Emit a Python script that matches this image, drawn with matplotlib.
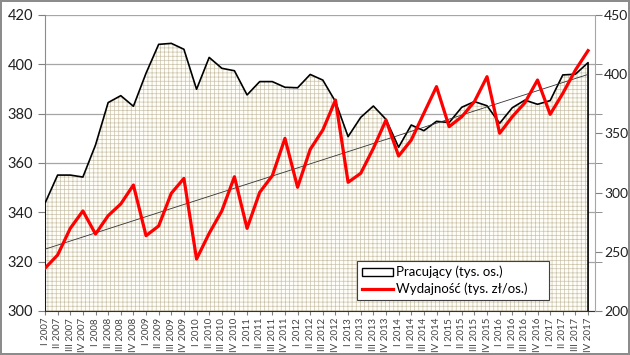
import numpy as np
import matplotlib
matplotlib.use("Agg")
import matplotlib.pyplot as plt
from matplotlib.patches import Patch
from matplotlib.lines import Line2D

plt.rcParams['font.family'] = ['Lato', 'DejaVu Sans']
plt.rcParams['hatch.linewidth'] = 0.5

quarters = [f"{q} {y}" for y in range(2007, 2018) for q in ["I", "II", "III", "IV"]]

pracujacy = [343.7, 355.1, 355.1, 354.3, 367.3, 384.5, 387.3, 383.0, 396.4, 408.1,
             408.5, 406.1, 389.9, 402.8, 398.4, 397.4, 387.6, 393.0, 393.0, 390.7,
             390.5, 395.9, 393.6, 384.9, 370.7, 378.5, 383.1, 377.7, 366.4, 375.4,
             373.1, 376.9, 376.4, 382.6, 384.9, 383.2, 376.1, 382.4, 385.5, 383.8,
             385.3, 395.7, 396.0, 400.7]

wydajnosc = [236.1, 247.3, 269.8, 284.5, 265.0, 280.5, 290.4, 306.4, 263.6, 271.8,
             299.4, 312.0, 243.9, 265.6, 284.5, 313.4, 269.8, 300.2, 314.3, 345.8,
             304.5, 336.5, 352.9, 378.2, 308.7, 316.3, 337.4, 361.3, 330.9, 344.4,
             367.0, 389.5, 355.7, 364.1, 376.8, 397.9, 350.1, 364.1, 375.9, 395.1,
             366.1, 383.8, 403.5, 419.9]

x = np.arange(len(quarters))

fig = plt.figure(figsize=(6.3, 3.55), dpi=100)
fig.patch.set_edgecolor('#8c8c8c')
fig.patch.set_linewidth(1.5)
ax = fig.add_axes([45/630, 1 - 311/355, 550/630, 296/355])
ax2 = ax.twinx()

# employment area with grid hatch
ax.fill_between(x, 300, pracujacy, facecolor='#fefdf8', edgecolor='#cbc3ab',
                hatch='++++', linewidth=0, zorder=2)
ax.plot(np.r_[x[0], x, x[-1]], np.r_[300, pracujacy, 300], color='black', lw=1.2,
        zorder=3)

ax.set_xlim(0, 43.55)
ax.set_ylim(300, 420)
ax.set_yticks(range(300, 421, 20))
ax.grid(axis='y', color='#a6a6a6', lw=0.9, zorder=1)
ax.set_axisbelow(True)
ax.set_xticks(x)
ax.set_xticklabels(quarters, rotation=90, fontsize=7, color='#404040')
ax.tick_params(axis='x', length=3, color='#808080', pad=2)
ax.tick_params(axis='y', length=5, color='#808080', labelsize=10.5, colors='#202020')

ax.spines['top'].set_visible(False)
ax2.spines['top'].set_visible(False)
ax.spines['left'].set_color('#8c8c8c')
ax2.spines['left'].set_visible(False)
ax.spines['right'].set_visible(False)
ax2.spines['right'].set_color('#a6a6a6')
ax.spines['bottom'].set_color('#333333')
ax2.spines['bottom'].set_visible(False)

# productivity + linear trend
ax2.set_ylim(200, 450)
ax2.set_yticks(range(200, 451, 50))
ax2.set_yticks([(v - 300) / 120 * 250 + 200 for v in range(320, 420, 20)], minor=True)
ax2.tick_params(axis='y', which='both', length=5, color='#808080', labelsize=10,
                colors='#202020', pad=1.5)
ax2.tick_params(axis='y', which='minor', labelright=False)
coef = np.polyfit(x, wydajnosc, 1)
ax2.plot(x, np.polyval(coef, x), color='#333333', lw=0.6, zorder=3)
ax2.plot(x, wydajnosc, color='#ff0000', lw=2.3, zorder=4)

handles = [Patch(facecolor='white', edgecolor='black', lw=1),
           Line2D([0], [0], color='#ff0000', lw=2.3)]
leg = ax2.legend(handles, ['Pracujący (tys. os.)', 'Wydajność (tys. zł/os.)'],
                 loc='lower left', mode='expand',
                 bbox_to_anchor=((357 - 45) / 550, (311 - 300) / 296, 192 / 550, 38 / 296),
                 fontsize=9.5, frameon=True, fancybox=False, edgecolor='#404040',
                 framealpha=1, borderaxespad=0, handlelength=2.4, handleheight=0.55,
                 handletextpad=0.2, labelspacing=0.35, borderpad=0.35)
leg.get_frame().set_linewidth(0.8)

fig.savefig('out.png', dpi=100)
